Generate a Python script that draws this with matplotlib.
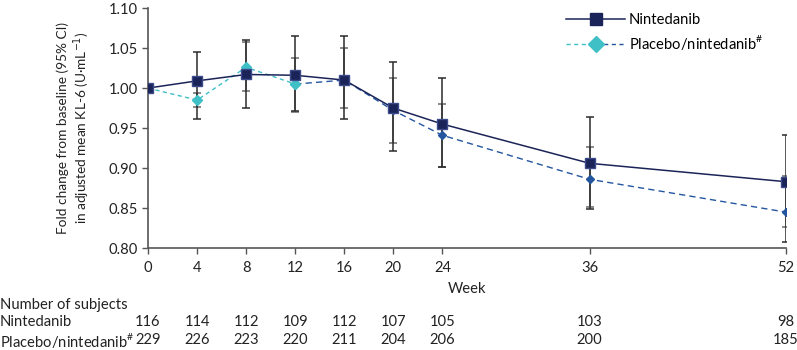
import numpy as np
import matplotlib
matplotlib.use("Agg")
import matplotlib.pyplot as plt
from matplotlib.lines import Line2D
from matplotlib.legend_handler import HandlerBase
import matplotlib.transforms as mtransforms

plt.rcParams["font.family"] = ["Lato", "DejaVu Sans"]

# ---------------------------------------------------------
# Data
# ---------------------------------------------------------
weeks = [0, 4, 8, 12, 16, 20, 24, 36, 52]

nin_mean = [1.000, 1.009, 1.017, 1.016, 1.010, 0.975, 0.955, 0.906, 0.883]
nin_lo = [1.000, 0.961, 0.975, 0.971, 0.961, 0.921, 0.901, 0.849, 0.808]
nin_hi = [1.000, 1.045, 1.060, 1.065, 1.065, 1.032, 1.013, 0.964, 0.942]

pbo_mean = [1.000, 0.985, 1.026, 1.005, 1.010, 0.972, 0.941, 0.886, 0.845]
pbo_lo = [1.000, 0.976, 0.996, 0.970, 0.975, 0.932, 0.902, 0.851, 0.827]
pbo_hi = [1.000, 0.994, 1.058, 1.038, 1.050, 1.012, 0.980, 0.927, 0.890]

nin_n = [116, 114, 112, 109, 112, 107, 105, 103, 98]
pbo_n = [229, 226, 223, 220, 211, 204, 206, 200, 185]

# placebo period ends at week 12 (index 3)
switch_idx = 3

PBO_LABEL = "Placebo/nintedanib$^{\\mathregular{\\#}}$"

NAVY = "#1b2458"
CYAN = "#3fbfc6"
BLUE = "#2456a0"
GREY = "#555555"
TXT = "#222222"
FS = 10.6


class SplitDashHandler(HandlerBase):
    """Legend handle: cyan dashes left, blue dashes right, cyan diamond centre."""

    def create_artists(self, legend, orig_handle, xdescent, ydescent,
                       width, height, fontsize, trans):
        y = height / 2 - ydescent
        x0 = -xdescent
        xm = x0 + width / 2
        x1 = x0 + width
        left = Line2D([x0, xm], [y, y], color=CYAN, lw=1, dashes=(3, 2.5))
        right = Line2D([xm, x1], [y, y], color=BLUE, lw=1, dashes=(3, 2.5))
        mark = Line2D([xm], [y], marker="D", color=CYAN, markersize=8,
                      linestyle="none")
        for a in (left, right, mark):
            a.set_transform(trans)
        return [left, right, mark]


fig = plt.figure(figsize=(7.97, 3.5), dpi=100)
ax = fig.add_axes([0.1857, 0.291, 0.8005, 0.686])

w = np.array(weeks)

# error bars
pm = np.array(pbo_mean)
ax.errorbar(w, pm, yerr=[pm - np.array(pbo_lo), np.array(pbo_hi) - pm],
            fmt="none", ecolor="#6a6a6a", elinewidth=1.1, capsize=3,
            capthick=1.1, zorder=2)
nm = np.array(nin_mean)
ax.errorbar(w, nm, yerr=[nm - np.array(nin_lo), np.array(nin_hi) - nm],
            fmt="none", ecolor="#2b2b2b", elinewidth=1.1, capsize=3,
            capthick=1.1, zorder=2)

# placebo / nintedanib line (two phases)
ax.plot(w[:switch_idx + 1], pm[:switch_idx + 1], color=CYAN, lw=1,
        dashes=(3, 2.5), marker="D", markersize=5.5, zorder=3)
ax.plot(w[switch_idx:], pm[switch_idx:], color=BLUE, lw=1,
        dashes=(4.5, 3), zorder=3)
ax.plot(w[switch_idx + 1:], pm[switch_idx + 1:], color=BLUE,
        linestyle="none", marker="D", markersize=4, zorder=3)
ax.plot(w[switch_idx:switch_idx + 1], pm[switch_idx:switch_idx + 1],
        color=CYAN, linestyle="none", marker="D", markersize=5.5, zorder=3)

# nintedanib line
ax.plot(w, nm, color=NAVY, lw=1.1, marker="s", markersize=7.5,
        markerfacecolor=NAVY, markeredgecolor="#3a4a8a", zorder=4)

ax.set_xlim(0, 52)
ax.set_ylim(0.80, 1.10)
ax.set_xticks(weeks)
ax.set_yticks([0.80, 0.85, 0.90, 0.95, 1.00, 1.05, 1.10])
ax.set_yticklabels([f"{v:.2f}" for v in ax.get_yticks()])

for s in ("top", "right"):
    ax.spines[s].set_visible(False)
for s in ("left", "bottom"):
    ax.spines[s].set_color(GREY)
    ax.spines[s].set_linewidth(1.2)
ax.tick_params(axis="both", colors=GREY, labelcolor=TXT,
               labelsize=FS, length=4, width=1.0)
ax.tick_params(axis="x", pad=5)

ax.set_xlabel("Week", fontsize=FS, color=TXT, labelpad=5)
ax.set_ylabel("Fold change from baseline (95% CI)\n"
              "in adjusted mean KL-6 (U\u00b7mL$^{-1}$)",
              fontsize=9.8, color=TXT, labelpad=12, linespacing=1.1)

# legend
h_nin = Line2D([], [], color=NAVY, lw=1.1, marker="s", markersize=8,
               markerfacecolor=NAVY)
h_pbo = object()
leg = ax.legend([h_nin, h_pbo], ["Nintedanib", PBO_LABEL],
                handler_map={object: SplitDashHandler()},
                loc="upper right", bbox_to_anchor=(0.985, 1.035),
                frameon=False, fontsize=FS, handlelength=4.0,
                handletextpad=0.25, labelspacing=0.4)

# number-at-risk table
tr = mtransforms.blended_transform_factory(ax.transData, fig.transFigure)
fig.text(0.0, 1 - 305 / 350, "Number of subjects", fontsize=FS,
         va="center", ha="left", color=TXT)
fig.text(0.0, 1 - 322 / 350, "Nintedanib", fontsize=FS,
         va="center", ha="left", color=TXT)
fig.text(0.0, 1 - 340 / 350, PBO_LABEL, fontsize=FS,
         va="center", ha="left", color=TXT)
for wk, a, b in zip(weeks, nin_n, pbo_n):
    ax.text(wk, 1 - 322 / 350, str(a), transform=tr, fontsize=FS,
            ha="center", va="center", color=TXT, clip_on=False)
    ax.text(wk, 1 - 340 / 350, str(b), transform=tr, fontsize=FS,
            ha="center", va="center", color=TXT, clip_on=False)

fig.savefig("out.png", dpi=100)
